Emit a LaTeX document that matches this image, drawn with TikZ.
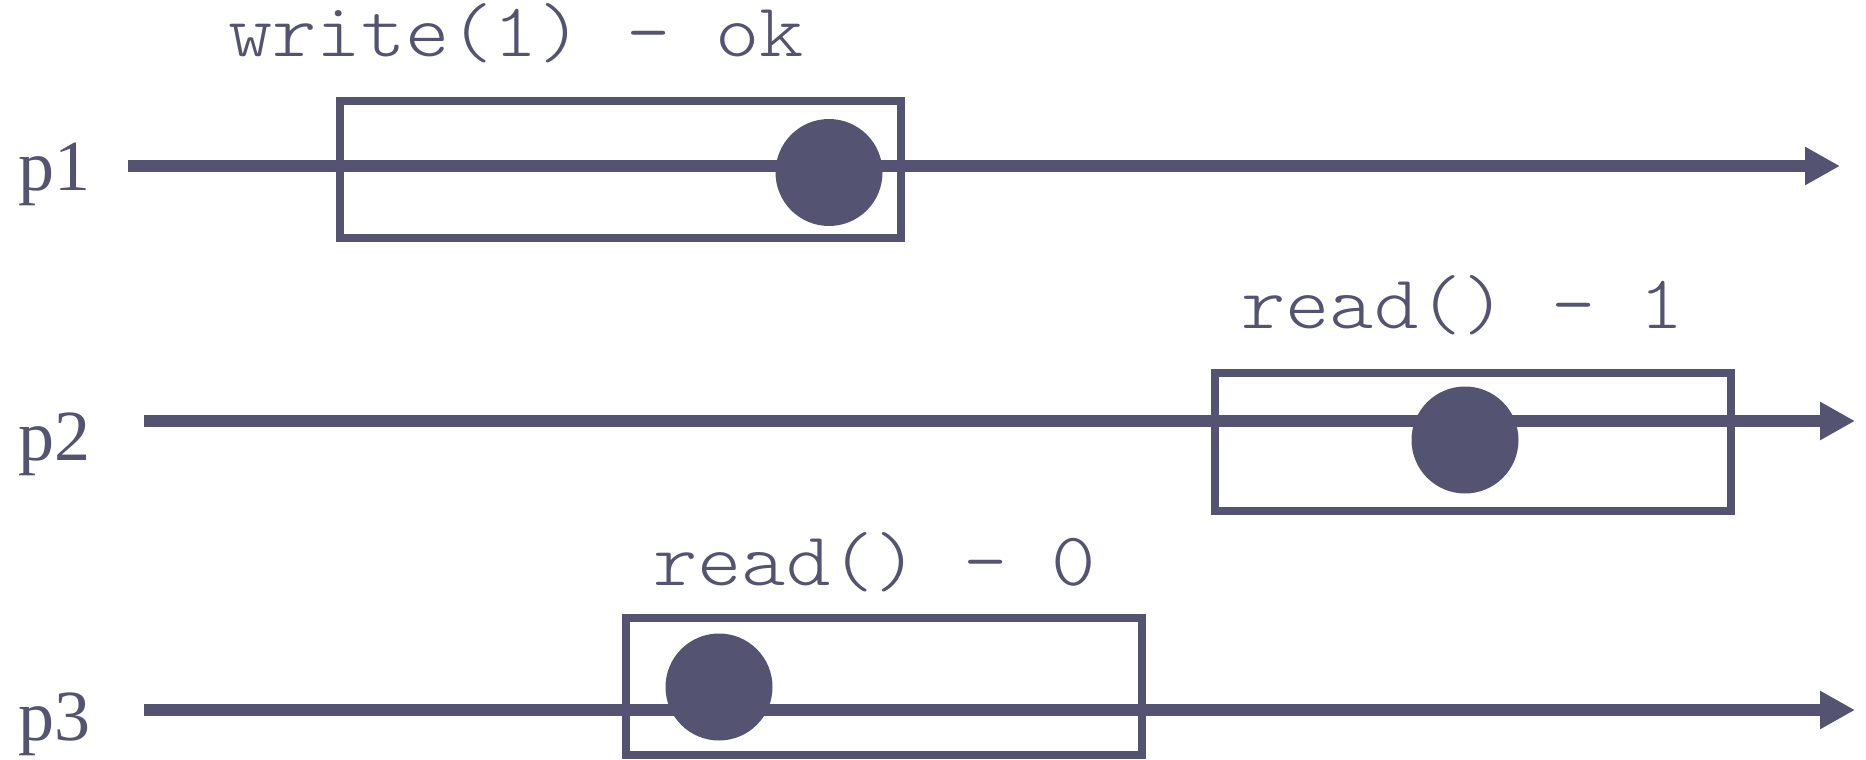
\documentclass[tikz,border=0pt]{standalone}
\usepackage{fontspec}
\setmainfont{Liberation Serif}
\setmonofont{Latin Modern Mono Light}[FakeStretch=1.11]
\usetikzlibrary{arrows.meta}
\definecolor{ink}{HTML}{545371}
\begin{document}
\begin{tikzpicture}[x=1pt,y=-1pt,
  timeline/.style={draw=ink,line width=11.5pt,-{Triangle[length=35pt,width=36pt]}},
  opbox/.style={draw=ink,line width=8pt,inner sep=0pt,minimum width=#1},
  opbox/.default=563pt,
  event/.style={circle,fill=ink,inner sep=0pt,minimum size=107pt},
  proc/.style={font=\fontsize{72}{72}\selectfont,text=ink,inner sep=0pt,anchor=base west},
  oplabel/.style={font=\ttfamily\fontsize{76}{76}\selectfont,text=ink,inner sep=0pt,anchor=base west}]
\useasboundingbox (0,0) rectangle (1866,760);

% process labels
\node[proc] (p1) at (18,190) {p1};
\node[proc] (p2) at (18,460) {p2};
\node[proc] (p3) at (18,740) {p3};

% time lines
\coordinate (s1) at (128,166);
\coordinate (e1) at (1840,166);
\coordinate (s2) at (144,421);
\coordinate (e2) at (1855,421);
\coordinate (s3) at (144,710);
\coordinate (e3) at (1855,710);
\draw[timeline] (s1) -- (e1);
\draw[timeline] (s2) -- (e2);
\draw[timeline] (s3) -- (e3);

% operation intervals
\node[opbox=561pt,minimum height=137pt] (b1) at (620.5,169.5) {};
\node[opbox=516pt,minimum height=138pt] (b2) at (1473,441.5) {};
\node[opbox=516pt,minimum height=137pt] (b3) at (884,686) {};

% linearization points
\node[event] (d1) at (829,172.5) {};
\node[event] (d2) at (1465,440) {};
\node[event] (d3) at (719,687) {};

% operation labels
\node[oplabel] (l1) at (228,57) {write(1) - ok};
\node[oplabel] (l2) at (1241,328) {read() - 1};
\node[oplabel] (l3) at (653,585) {read() - 0};
\end{tikzpicture}
\end{document}
